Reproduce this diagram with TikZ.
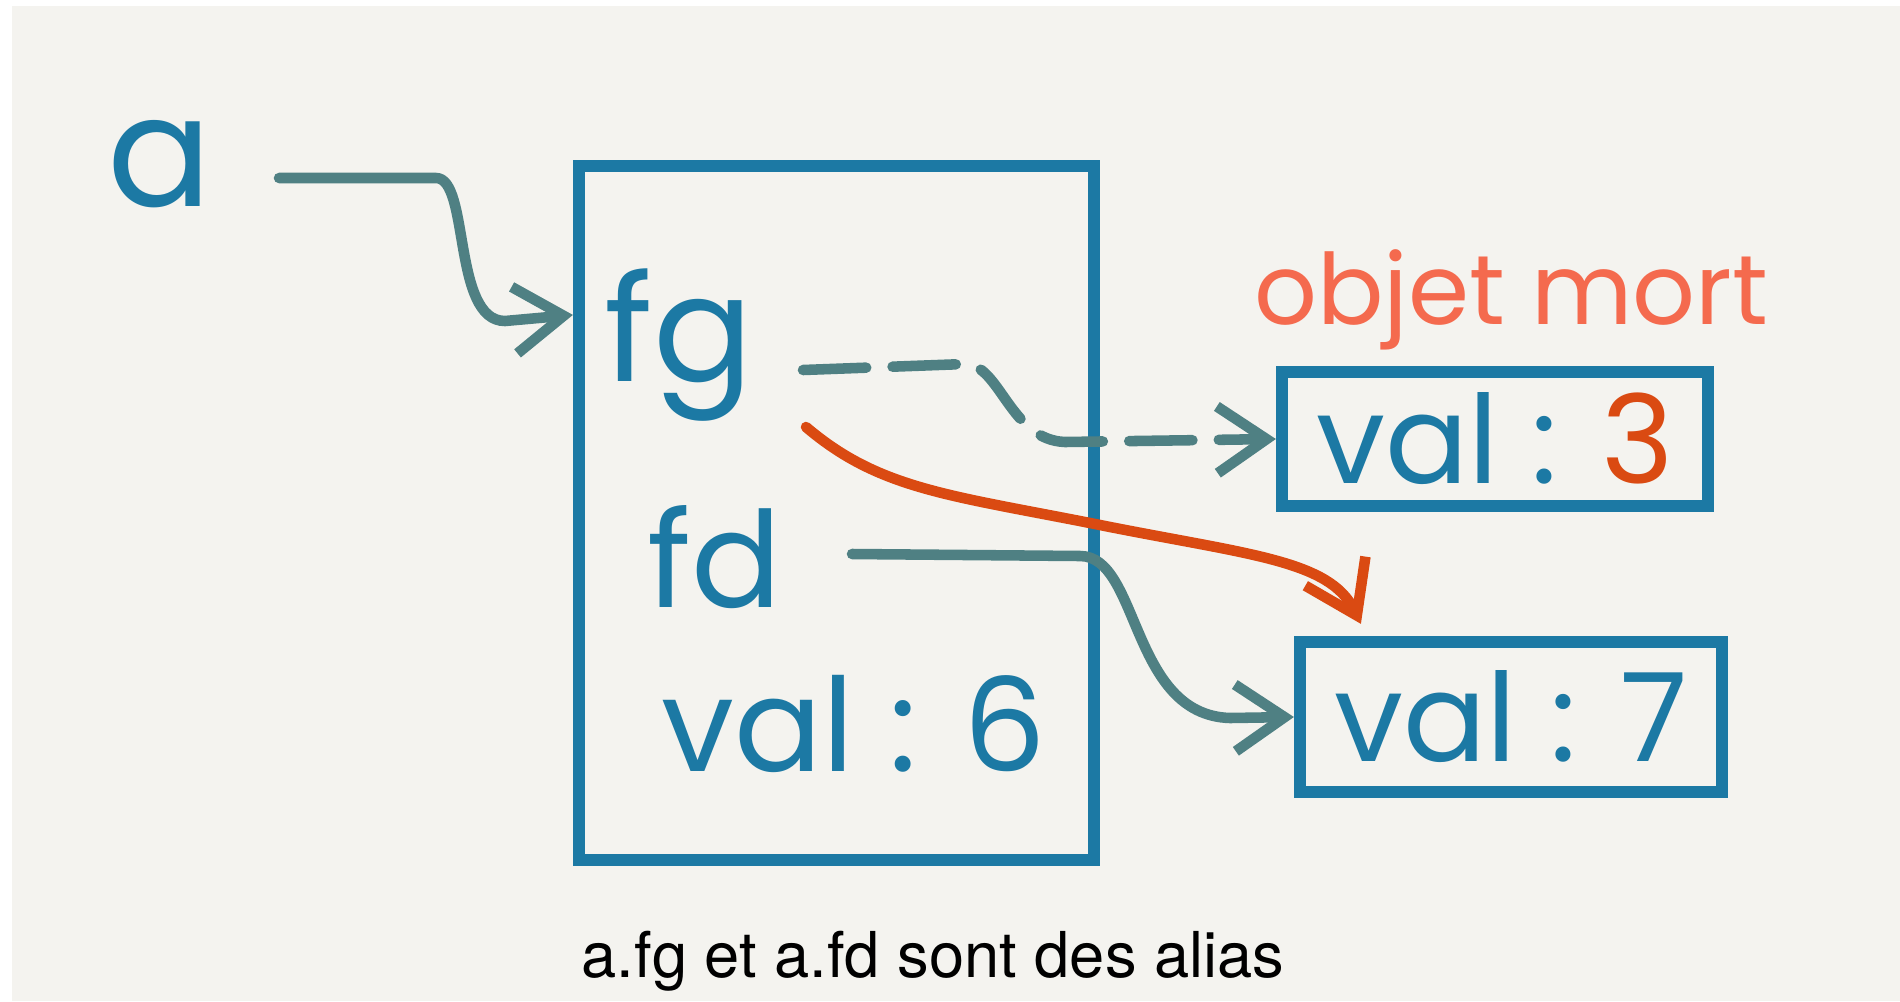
\documentclass[tikz,border=0pt]{standalone}
\usepackage{fontspec}
\setmainfont{TeX Gyre Heros}
\newfontfamily\handfont{Poppins}
\usetikzlibrary{arrows.meta,calc}
\definecolor{PaperClr}{HTML}{F4F3EF}
\definecolor{BoxClr}{HTML}{1C79A4}
\definecolor{LinkClr}{HTML}{4F8083}
\definecolor{DeadClr}{HTML}{DA4A12}
\definecolor{NoteClr}{HTML}{F46A4E}

\begin{document}
\begin{tikzpicture}[x=0.02cm,y=-0.02cm,
  hand/.style={text=BoxClr,inner sep=0pt,font=\handfont},
  objbox/.style={draw=BoxClr,line width=7pt,inner sep=0pt,font=\handfont\fontsize{70}{70}\selectfont,text=BoxClr},
  link/.style={draw=LinkClr,line width=6pt,line cap=round,line join=round,
    -{Straight Barb[length=28pt,width=38pt]}},
  deadlink/.style={link,draw=DeadClr}]
\useasboundingbox (0,0) rectangle (1900,1001);
\fill[white] (0,0) rectangle (1900,1001);
\fill[PaperClr] (12,6) rectangle (1900,1001);

% objets
\node[objbox,minimum width=10.3cm,minimum height=13.88cm] (main) at (836.5,513) {};
\node[objbox,minimum width=8.52cm,minimum height=2.68cm] (box3) at (1495,439) {val : \textcolor{DeadClr}{3}};
\node[objbox,minimum width=8.44cm,minimum height=3cm] (box7) at (1511,717) {val : 7};

% textes
\node[hand,font=\handfont\fontsize{88}{88}\selectfont] (a) at (160,164) {a};
\node[hand,font=\handfont\fontsize{84}{84}\selectfont] (fg) at (679,345) {fg};
\node[hand,font=\handfont\fontsize{76}{76}\selectfont] (fd) at (715,557) {fd};
\node[hand,font=\handfont\fontsize{74}{74}\selectfont] (val6) at (854,724) {val : 6};
\node[hand,text=NoteClr,font=\handfont\fontsize{56}{56}\selectfont] (mort) at (1511,300) {objet mort};
\node[anchor=base,inner sep=0pt,font=\fontsize{36}{36}\selectfont] (caption) at (933,977) {a.fg et a.fd sont des alias};

\coordinate (aout) at (279,178);
\coordinate (fgout) at (803,370);
\coordinate (fgred) at (806,427);
\coordinate (fdout) at (852,554);

% liens
\draw[link] (aout) -- (436,178) .. controls (470,178) and (452,321) .. (505,321) -- ($(main.north west)+(0,155)$);
\draw[link,dash pattern=on 36pt off 15pt] (fgout) -- (965,364) .. controls (1000,364) and (1010,440) .. (1065,442) -- (box3.west);
\draw[link] (fdout) -- (1080,556) .. controls (1140,556) and (1130,715) .. (1230,718) -- (box7.west);
\draw[deadlink] (fgred) .. controls (880,490) and (950,495) .. (1100,525)
  .. controls (1250,555) and (1330,560) .. ($(box7.north west)+(67,-12)$);
\end{tikzpicture}
\end{document}
